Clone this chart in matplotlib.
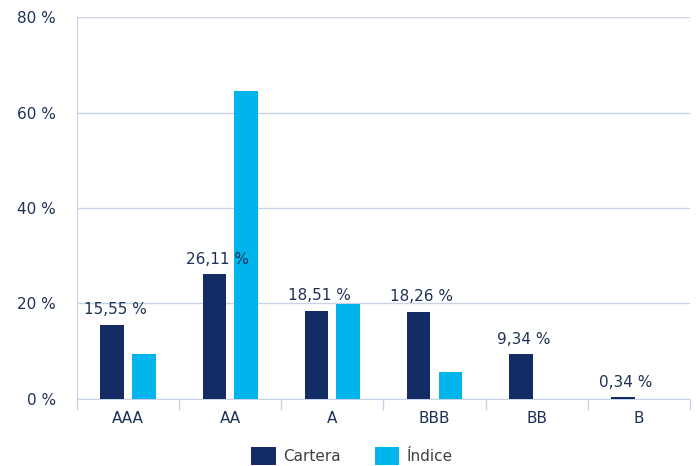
import matplotlib
matplotlib.use("Agg")
import matplotlib.pyplot as plt
import numpy as np

categories = ["AAA", "AA", "A", "BBB", "BB", "B"]
cartera = [15.55, 26.11, 18.51, 18.26, 9.34, 0.34]
indice = [9.4, 64.5, 19.9, 5.6, 0.0, 0.0]
cartera_labels = ["15,55 %", "26,11 %", "18,51 %", "18,26 %", "9,34 %", "0,34 %"]
yticks = [0, 20, 40, 60, 80]
ytick_labels = ["0 %", "20 %", "40 %", "60 %", "80 %"]

navy = "#132c66"
cyan = "#00b5ec"
grid_c = "#c8d4e6"
text_c = "#1f3056"

fig = plt.figure(figsize=(6.98, 4.66), dpi=100)
ax = fig.add_axes([0.1103, 0.1438, 0.8782, 0.8197])

x = np.arange(len(categories))
w = 0.23
off = 0.155
ax.bar(x - off, cartera, width=w, color=navy, label="Cartera", zorder=3)
ax.bar(x + off, indice, width=w, color=cyan, label="Índice", zorder=3)

for xi, v, lab in zip(x, cartera, cartera_labels):
    ax.annotate(lab, (xi - off + 0.03, v), xytext=(0, 5.5), textcoords="offset points",
                ha="center", va="bottom", fontsize=11, color=text_c, zorder=4)

ax.set_xlim(-0.5, len(categories) - 0.5)
ax.set_ylim(0, 80)
ax.set_yticks(yticks)
ax.set_yticklabels(ytick_labels, fontsize=11, color=text_c)
ax.yaxis.grid(True, color=grid_c, linewidth=1, zorder=0)
ax.tick_params(axis="y", length=0, pad=15)

ax.set_xticks(x)
ax.set_xticklabels(categories, fontsize=11, color=text_c)
ax.set_xticks(np.arange(-0.5, len(categories), 1.0), minor=True)
ax.tick_params(axis="x", which="major", length=0, pad=9)
ax.tick_params(axis="x", which="minor", length=8, color=grid_c, width=1)

for s in ["top", "right"]:
    ax.spines[s].set_visible(False)
ax.spines["left"].set_color(grid_c)
ax.spines["bottom"].set_color(grid_c)

h, l = ax.get_legend_handles_labels()
leg = fig.legend(h, l, loc="center", bbox_to_anchor=(352 / 698, 1 - 456 / 466), ncol=2,
                 frameon=False, fontsize=11, handlelength=1.6, handleheight=1.5,
                 columnspacing=2.2, handletextpad=0.5, borderaxespad=0, borderpad=0)
for t in leg.get_texts():
    t.set_color("#404040")

fig.savefig("out.png", dpi=100)
